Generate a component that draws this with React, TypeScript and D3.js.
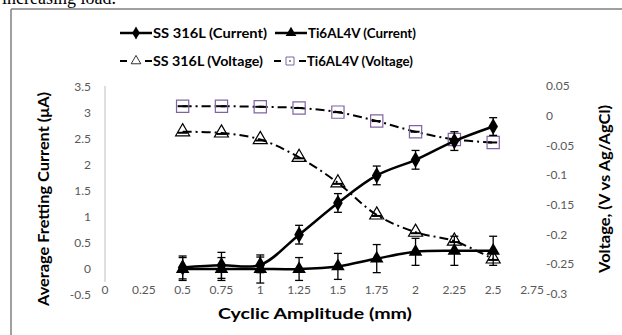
import { useEffect, useRef } from 'react'
import * as d3 from 'd3'

const amplitude = [0.5, 0.75, 1, 1.25, 1.5, 1.75, 2, 2.25, 2.5]
const ssCurrent = [0.03, 0.07, 0.08, 0.66, 1.27, 1.8, 2.1, 2.46, 2.74]
const ssCurrentErr = [0.22, 0.25, 0.15, 0.18, 0.18, 0.18, 0.18, 0.18, 0.17]
const tiCurrent = [0, 0, 0, 0, 0.05, 0.2, 0.33, 0.35, 0.35]
const tiCurrentErr = [0.22, 0.22, 0.27, 0.22, 0.25, 0.27, 0.26, 0.28, 0.28]
const ssVoltage = [-0.027, -0.029, -0.04, -0.07, -0.113, -0.167, -0.196, -0.211, -0.241]
const tiVoltage = [0.016, 0.016, 0.015, 0.013, 0.006, -0.009, -0.027, -0.04, -0.045]

const xTicks = [0, 0.25, 0.5, 0.75, 1, 1.25, 1.5, 1.75, 2, 2.25, 2.5, 2.75]
const leftTicks = [-0.5, 0, 0.5, 1, 1.5, 2, 2.5, 3, 3.5]
const rightTicks = [-0.3, -0.25, -0.2, -0.15, -0.1, -0.05, 0, 0.05]

const FONT = 'Lato, "Open Sans", sans-serif'
const PURPLE = '#8064a2'

export default function App() {
  const svgRef = useRef<SVGSVGElement>(null)

  useEffect(() => {
    if (!svgRef.current) return
    const svg = d3.select(svgRef.current)
    svg.selectAll('*').remove()

    const x = d3.scaleLinear().domain([0, 2.75]).range([105, 532])
    const yL = d3.scaleLinear().domain([-0.5, 3.5]).range([295, 87])
    const yR = d3.scaleLinear().domain([-0.3, 0.05]).range([294, 86])

    // caption text above the figure (cut off in the source too)
    svg.append('text')
      .attr('x', 2).attr('y', 4)
      .attr('font-family', '"Liberation Serif", serif')
      .attr('font-size', 18)
      .text('increasing load.')

    // frame
    svg.append('line').attr('x1', 11).attr('x2', 622).attr('y1', 9).attr('y2', 9)
      .attr('stroke', '#808080').attr('stroke-width', 1.5)
    svg.append('line').attr('x1', 11).attr('x2', 11).attr('y1', 9).attr('y2', 335)
      .attr('stroke', '#808080').attr('stroke-width', 1.5)

    // left axis line
    svg.append('line').attr('x1', 105).attr('x2', 105).attr('y1', 86).attr('y2', 282)
      .attr('stroke', '#bfbfbf').attr('stroke-width', 1)

    // tick labels
    svg.append('g').selectAll('text').data(leftTicks).join('text')
      .attr('x', 91).attr('y', d => yL(d)).attr('dy', '0.35em')
      .attr('text-anchor', 'end')
      .attr('font-family', FONT).attr('font-size', 12).attr('fill', '#595959')
      .text(d => String(d))

    svg.append('g').selectAll('text').data(rightTicks).join('text')
      .attr('x', 546).attr('y', d => yR(d)).attr('dy', '0.35em')
      .attr('font-family', FONT).attr('font-size', 12).attr('fill', '#595959')
      .text(d => String(d))

    svg.append('g').selectAll('text').data(xTicks).join('text')
      .attr('x', d => x(d)).attr('y', 290).attr('dy', '0.35em')
      .attr('text-anchor', 'middle')
      .attr('font-family', FONT).attr('font-size', 12).attr('fill', '#595959')
      .text(d => String(d))

    // axis titles
    svg.append('text')
      .attr('x', 315).attr('y', 313).attr('dy', '0.35em')
      .attr('text-anchor', 'middle')
      .attr('font-family', FONT).attr('font-weight', 'bold').attr('font-size', 16)
      .attr('textLength', 194).attr('lengthAdjust', 'spacingAndGlyphs')
      .text('Cyclic Amplitude (mm)')

    svg.append('text')
      .attr('transform', 'translate(44,199) rotate(-90)')
      .attr('dy', '0.35em')
      .attr('text-anchor', 'middle')
      .attr('font-family', FONT).attr('font-weight', 'bold').attr('font-size', 15)
      .attr('textLength', 214).attr('lengthAdjust', 'spacingAndGlyphs')
      .text('Average Fretting Current (μA)')

    svg.append('text')
      .attr('transform', 'translate(605,189) rotate(-90)')
      .attr('dy', '0.35em')
      .attr('text-anchor', 'middle')
      .attr('font-family', FONT).attr('font-weight', 'bold').attr('font-size', 15)
      .attr('textLength', 168).attr('lengthAdjust', 'spacingAndGlyphs')
      .text('Voltage, (V vs Ag/AgCl)')

    const dashLine = '9,4,2,4'

    // voltage series (right axis)
    const lineR = d3.line<number>()
      .x((_, i) => x(amplitude[i]))
      .y(d => yR(d))
      .curve(d3.curveCatmullRom)

    const tri = d3.symbol().type(d3.symbolTriangle)
    const sq = d3.symbol().type(d3.symbolSquare)
    const dia = d3.symbol().type(d3.symbolDiamond)

    svg.append('path').datum(tiVoltage)
      .attr('fill', 'none').attr('stroke', '#000').attr('stroke-width', 2)
      .attr('stroke-dasharray', dashLine).attr('d', lineR)
    svg.append('g').selectAll('path').data(tiVoltage).join('path')
      .attr('transform', (d, i) => `translate(${x(amplitude[i])},${yR(d)})`)
      .attr('d', sq.size(150)())
      .attr('fill', 'none').attr('stroke', PURPLE).attr('stroke-width', 1.2)
    svg.append('g').selectAll('line').data(tiVoltage).join('line')
      .attr('x1', (_, i) => x(amplitude[i]) - 5).attr('x2', (_, i) => x(amplitude[i]) + 4)
      .attr('y1', d => yR(d)).attr('y2', d => yR(d))
      .attr('stroke', '#000').attr('stroke-width', 2)

    svg.append('path').datum(ssVoltage)
      .attr('fill', 'none').attr('stroke', '#000').attr('stroke-width', 2)
      .attr('stroke-dasharray', dashLine).attr('d', lineR)
    svg.append('g').selectAll('path').data(ssVoltage).join('path')
      .attr('transform', (d, i) => `translate(${x(amplitude[i])},${yR(d)})`)
      .attr('d', tri.size(85)())
      .attr('fill', 'none').attr('stroke', '#000').attr('stroke-width', 1.2)
    svg.append('g').selectAll('line').data(ssVoltage).join('line')
      .attr('x1', (_, i) => x(amplitude[i]) - 5).attr('x2', (_, i) => x(amplitude[i]) + 5)
      .attr('y1', d => yR(d) + 1).attr('y2', d => yR(d) + 1)
      .attr('stroke', '#000').attr('stroke-width', 2)

    // current series (left axis)
    const lineL = d3.line<number>()
      .x((_, i) => x(amplitude[i]))
      .y(d => yL(d))
      .curve(d3.curveCatmullRom)

    const drawErr = (vals: number[], errs: number[]) => {
      const g = svg.append('g').attr('stroke', '#000').attr('stroke-width', 1.3)
      vals.forEach((v, i) => {
        const cx = x(amplitude[i])
        const top = yL(v + errs[i])
        const bot = yL(v - errs[i])
        g.append('line').attr('x1', cx).attr('x2', cx).attr('y1', top).attr('y2', bot)
        g.append('line').attr('x1', cx - 4).attr('x2', cx + 4).attr('y1', top).attr('y2', top)
        g.append('line').attr('x1', cx - 4).attr('x2', cx + 4).attr('y1', bot).attr('y2', bot)
      })
    }

    drawErr(tiCurrent, tiCurrentErr)
    drawErr(ssCurrent, ssCurrentErr)

    svg.append('path').datum(tiCurrent)
      .attr('fill', 'none').attr('stroke', '#000').attr('stroke-width', 2.5).attr('d', lineL)
    svg.append('g').selectAll('path').data(tiCurrent).join('path')
      .attr('transform', (d, i) => `translate(${x(amplitude[i])},${yL(d)})`)
      .attr('d', tri.size(80)())
      .attr('fill', '#000')

    svg.append('path').datum(ssCurrent)
      .attr('fill', 'none').attr('stroke', '#000').attr('stroke-width', 2.5).attr('d', lineL)
    svg.append('g').selectAll('path').data(ssCurrent).join('path')
      .attr('transform', (d, i) => `translate(${x(amplitude[i])},${yL(d)})`)
      .attr('d', dia.size(80)())
      .attr('fill', '#000')

    // legend
    const legend = [
      { label: 'SS 316L (Current)', x: 120, y: 33, w: 114, kind: 'dia' },
      { label: 'Ti6AL4V (Current)', x: 275, y: 33, w: 108, kind: 'tri' },
      { label: 'SS 316L (Voltage)', x: 120, y: 61, w: 110, kind: 'otri' },
      { label: 'Ti6AL4V (Voltage)', x: 274, y: 61, w: 106, kind: 'osq' },
    ]
    legend.forEach(l => {
      const g = svg.append('g')
      const cx = l.x + 16
      if (l.kind === 'dia' || l.kind === 'tri') {
        g.append('line').attr('x1', l.x).attr('x2', l.x + 32).attr('y1', l.y).attr('y2', l.y)
          .attr('stroke', '#000').attr('stroke-width', 2.5)
        g.append('path').attr('transform', `translate(${cx},${l.y})`)
          .attr('d', (l.kind === 'dia' ? dia : tri).size(50)()).attr('fill', '#000')
      } else {
        g.append('line').attr('x1', l.x).attr('x2', l.x + 7).attr('y1', l.y).attr('y2', l.y)
          .attr('stroke', '#000').attr('stroke-width', 2)
        g.append('line').attr('x1', l.x + 25).attr('x2', l.x + 32).attr('y1', l.y).attr('y2', l.y)
          .attr('stroke', '#000').attr('stroke-width', 2)
        if (l.kind === 'otri') {
          g.append('path').attr('transform', `translate(${cx},${l.y})`)
            .attr('d', tri.size(40)()).attr('fill', 'none').attr('stroke', '#000').attr('stroke-width', 0.8)
        } else {
          g.append('path').attr('transform', `translate(${cx},${l.y})`)
            .attr('d', sq.size(64)()).attr('fill', 'none').attr('stroke', PURPLE).attr('stroke-width', 1)
          g.append('circle').attr('cx', cx).attr('cy', l.y).attr('r', 0.8).attr('fill', '#000')
        }
      }
      g.append('text')
        .attr('x', l.x + 33).attr('y', l.y).attr('dy', '0.35em')
        .attr('font-family', FONT).attr('font-weight', 'bold').attr('font-size', 13)
        .attr('textLength', l.w).attr('lengthAdjust', 'spacingAndGlyphs')
        .text(l.label)
    })
  }, [])

  return (
    <div style={{ position: 'fixed', left: 0, top: 0, background: '#fff' }}>
      <svg ref={svgRef} width={622} height={335} style={{ display: 'block' }} />
    </div>
  )
}
